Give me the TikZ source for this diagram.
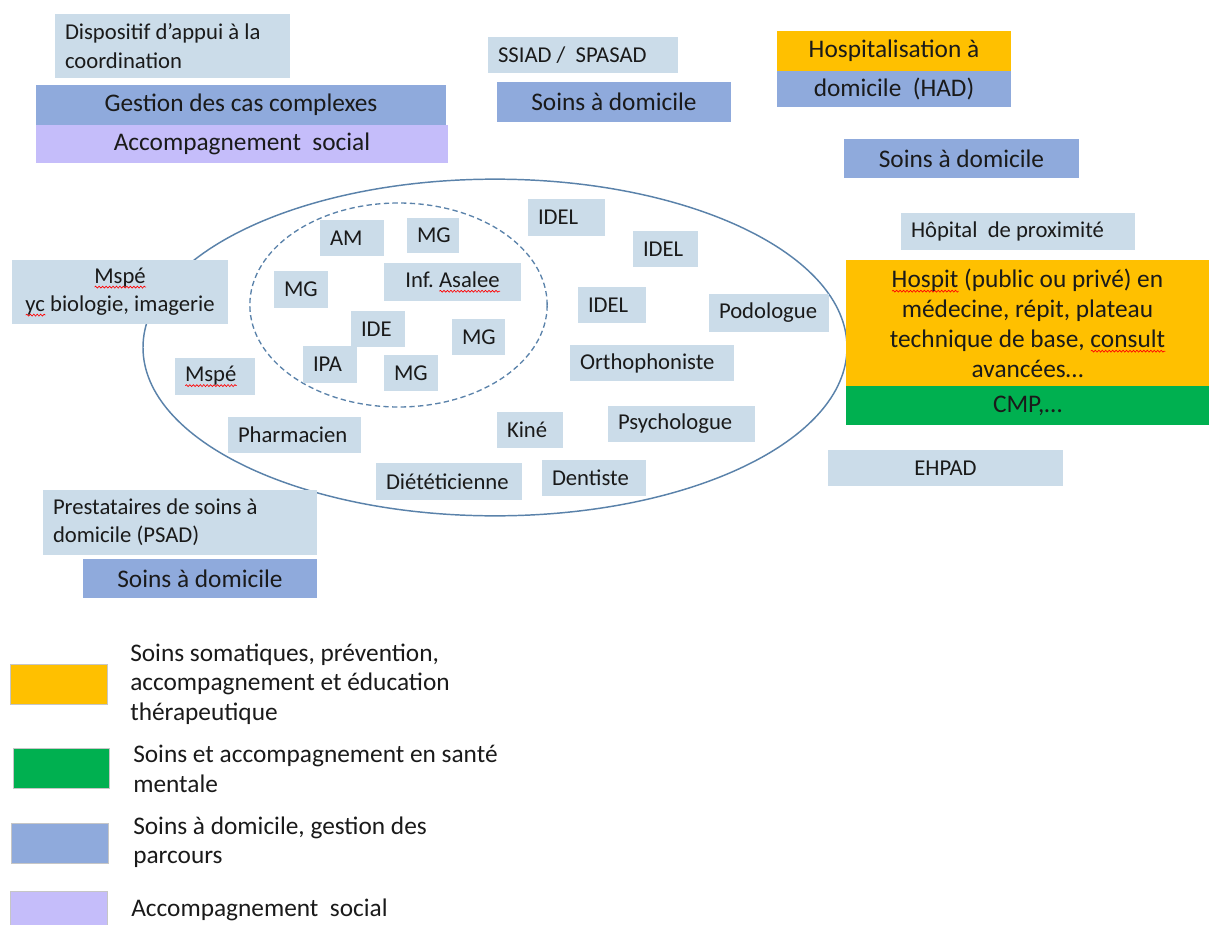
\documentclass[tikz,border=0pt]{standalone}
\usepackage{fontspec}
\setmainfont{Carlito}
\usetikzlibrary{shapes.geometric,decorations.pathmorphing}
\definecolor{boxlight}{HTML}{CBDCE9}
\definecolor{boxblue}{HTML}{8FAADC}
\definecolor{boxorange}{HTML}{FFC000}
\definecolor{boxgreen}{HTML}{00B050}
\definecolor{boxlav}{HTML}{C5BDFA}
\definecolor{ellcol}{HTML}{5A82AA}
\definecolor{txt}{HTML}{1A1A1A}
\frenchspacing
\newlength\sqw
\newcommand\squig[1]{\leavevmode\settowidth\sqw{#1}\rlap{\tikz[baseline=0pt]\draw[red, fill=none, solid, line width=0.5pt, decorate, decoration={snake, amplitude=0.7pt, segment length=2.6pt}] (0pt,-3pt) -- (\sqw,-3pt);}#1}
\newcommand\fs{\fontsize{17}{21}\selectfont}
\newcommand\fb{\fontsize{19}{22.5}\selectfont}
% name, x1, y1, x2, y2, style, align, text
\newcommand\mkbox[8]{%
  \pgfmathsetmacro\bw{(#4-#2)*0.75}%
  \pgfmathsetmacro\bh{(#5-#3)*0.75}%
  \pgfmathsetmacro\tw{(#4-#2)*0.75-15}%
  \node[#6, minimum width=\bw pt, minimum height=\bh pt, text width=\tw pt,
        align=flush #7, inner xsep=7.5pt, inner ysep=0pt] (#1) at ({(#2+#4)/2},{(#3+#5)/2}) {#8};%
}
\tikzset{
  light/.style={fill=boxlight, text=txt, font=\fs},
  blue/.style={fill=boxblue, text=txt, font=\fb},
  orange/.style={fill=boxorange, text=txt, font=\fb},
  green/.style={fill=boxgreen, text=txt, font=\fb},
  lav/.style={fill=boxlav, text=txt, font=\fb},
  legbox/.style={draw=gray!45, line width=0.5pt},
  legtext/.style={anchor=west, inner sep=0pt, align=left, text=txt, font=\fontsize{19}{22}\selectfont},
}
\begin{document}
\begin{tikzpicture}[x=0.75pt, y=-0.75pt]
\useasboundingbox (0,0) rectangle (1209,924);
% ellipses
\node[ellipse, draw=ellcol, line width=1.1pt, minimum width=528pt, minimum height=252.5pt, inner sep=0pt] (outer) at (495,347.5) {};
\node[ellipse, draw=ellcol, line width=1pt, dash pattern=on 4pt off 2.5pt, minimum width=223pt, minimum height=153pt, inner sep=0pt] (inner) at (398.5,305) {};
% top left
\mkbox{dac}{55}{14}{290}{78}{light, font=\fontsize{17}{21.75}\selectfont}{left}{Dispositif d’appui à la\\coordination}
\mkbox{gcc}{36}{85}{446}{125}{blue}{center}{Gestion des cas complexes}
\mkbox{acs}{36}{125}{448}{163}{lav}{center}{Accompagnement\ \ social}
% top middle
\mkbox{ssiad}{488}{37}{678}{73}{light}{left}{SSIAD /\ \ SPASAD}
\mkbox{sad1}{497}{82}{731}{122}{blue}{center}{Soins à domicile}
% top right
\mkbox{had1}{777}{31}{1011}{71}{orange}{center}{Hospitalisation à}
\mkbox{had2}{777}{71}{1011}{107}{blue}{center}{domicile\ \ (HAD)}
\mkbox{sad2}{844}{139}{1079}{178}{blue}{center}{Soins à domicile}
\mkbox{hprox}{901}{213}{1135}{250}{light}{left}{Hôpital\ \ de proximité}
\mkbox{hospit}{846}{260}{1209}{386}{orange}{center}{\squig{Hospit} (public ou privé) en\\médecine, répit, plateau\\technique de base, \squig{consult}\\avancées…}
\mkbox{cmp}{846}{386}{1209}{425}{green}{center}{CMP,…}
\mkbox{ehpad}{828}{450}{1063}{486}{light}{center}{EHPAD}
% left
\mkbox{mspe1}{12}{260}{228}{324}{light}{center}{\squig{Mspé}\\\squig{yc} biologie, imagerie}
\mkbox{mspe2}{175}{358}{255}{395}{light}{left}{\squig{Mspé}}
\mkbox{pharma}{228}{417}{361}{453}{light}{left}{Pharmacien}
\mkbox{psad}{43}{490}{317}{555}{light}{left}{Prestataires de soins à\\domicile (PSAD)}
\mkbox{sad3}{83}{559}{317}{598}{blue}{center}{Soins à domicile}
% inner dashed group
\mkbox{am}{320}{220}{384}{256}{light}{left}{AM}
\mkbox{mg1}{407}{218}{459}{253}{light}{left}{MG}
\mkbox{mg2}{274}{271}{328}{308}{light}{left}{MG}
\mkbox{asalee}{384}{263}{521}{301}{light}{center}{Inf. \squig{Asalee}}
\mkbox{ide}{351}{311}{405}{347}{light}{left}{IDE}
\mkbox{mg3}{452}{319}{505}{355}{light}{left}{MG}
\mkbox{ipa}{303}{346}{357}{383}{light}{left}{IPA}
\mkbox{mg4}{384}{355}{438}{391}{light}{left}{MG}
% outer ellipse group
\mkbox{idel1}{528}{199}{605}{236}{light}{left}{IDEL}
\mkbox{idel2}{633}{231}{698}{267}{light}{left}{IDEL}
\mkbox{idel3}{578}{287}{646}{323}{light}{left}{IDEL}
\mkbox{podo}{709}{294}{829}{332}{light}{left}{Podologue}
\mkbox{ortho}{570}{345}{734}{381}{light}{left}{Orthophoniste}
\mkbox{kine}{497}{412}{563}{448}{light}{left}{Kiné}
\mkbox{psy}{608}{406}{755}{442}{light}{left}{Psychologue}
\mkbox{diet}{376}{463}{522}{500}{light}{left}{Diététicienne}
\mkbox{dent}{542}{460}{646}{496}{light}{left}{Dentiste}
% legend
\mkbox{lg1}{10}{664}{107}{704}{fill=boxorange, legbox}{center}{}
\mkbox{lg2}{13}{748}{109}{788}{fill=boxgreen, legbox}{center}{}
\mkbox{lg3}{11}{823}{108}{863}{fill=boxblue, legbox}{center}{}
\mkbox{lg4}{10}{891}{107}{931}{fill=boxlav, legbox}{center}{}
\node[legtext] (lt1) at (130,684) {Soins somatiques, prévention,\\accompagnement et éducation\\thérapeutique};
\node[legtext] (lt2) at (133,769) {Soins et accompagnement en santé\\mentale};
\node[legtext] (lt3) at (133,842) {Soins à domicile, gestion des\\parcours};
\node[legtext] (lt4) at (131,910) {Accompagnement\ \ social};
\end{tikzpicture}
\end{document}
